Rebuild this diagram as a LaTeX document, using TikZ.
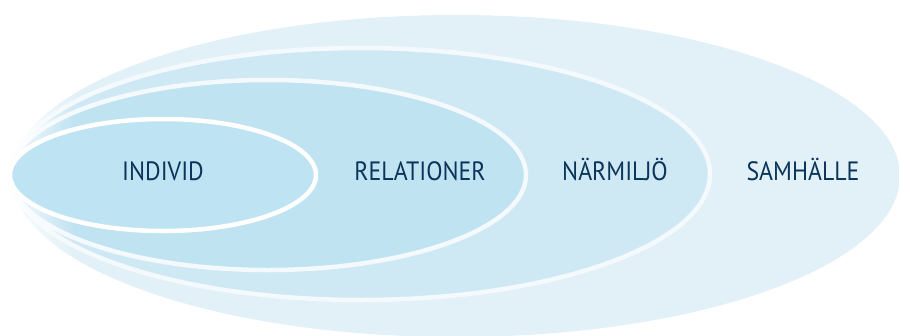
\documentclass[tikz,border=0pt]{standalone}
\usepackage{fontspec}
\setmainfont[FakeStretch=0.9]{PT Sans}
\usetikzlibrary{fadings}
\definecolor{navy}{HTML}{0A3459}
\definecolor{individ}{HTML}{BEE3F2}
\definecolor{relation}{HTML}{C0E3F2}
\definecolor{narmiljo}{HTML}{CFE9F4}
\definecolor{samhalle}{HTML}{E2F1F8}
\definecolor{edge}{HTML}{F3F9FC}
\tikzfading[name=fadeleft, left color=transparent!0, right color=transparent!100]
\begin{document}
\begin{tikzpicture}[x=1pt,y=-1pt,
    ring/.style = {line width=4.5pt},
    word/.style = {text=navy, font=\fontsize{26.5}{30}\selectfont, inner sep=0pt, anchor=base}]
    \useasboundingbox (0,0) rectangle (899,335);
    \fill[samhalle] (456,176) ellipse [x radius=444, y radius=161];
    \filldraw[fill=narmiljo, draw=edge, ring] (361,174) ellipse [x radius=349, y radius=126];
    \filldraw[fill=relation, draw=edge, ring] (268,175) ellipse [x radius=258, y radius=95];
    \fill[white, path fading=fadeleft] (0,0) rectangle (75,335);
    \filldraw[fill=individ, draw=white, ring] (163,175) ellipse [x radius=153, y radius=56];
    \node[word] (1) at (163,180) {INDIVID};
    \node[word] (2) at (420,180) {RELATIONER};
    \node[word] (3) at (615,180) {NÄRMILJÖ};
    \node[word] (4) at (803,180) {SAMHÄLLE};
\end{tikzpicture}
\end{document}
